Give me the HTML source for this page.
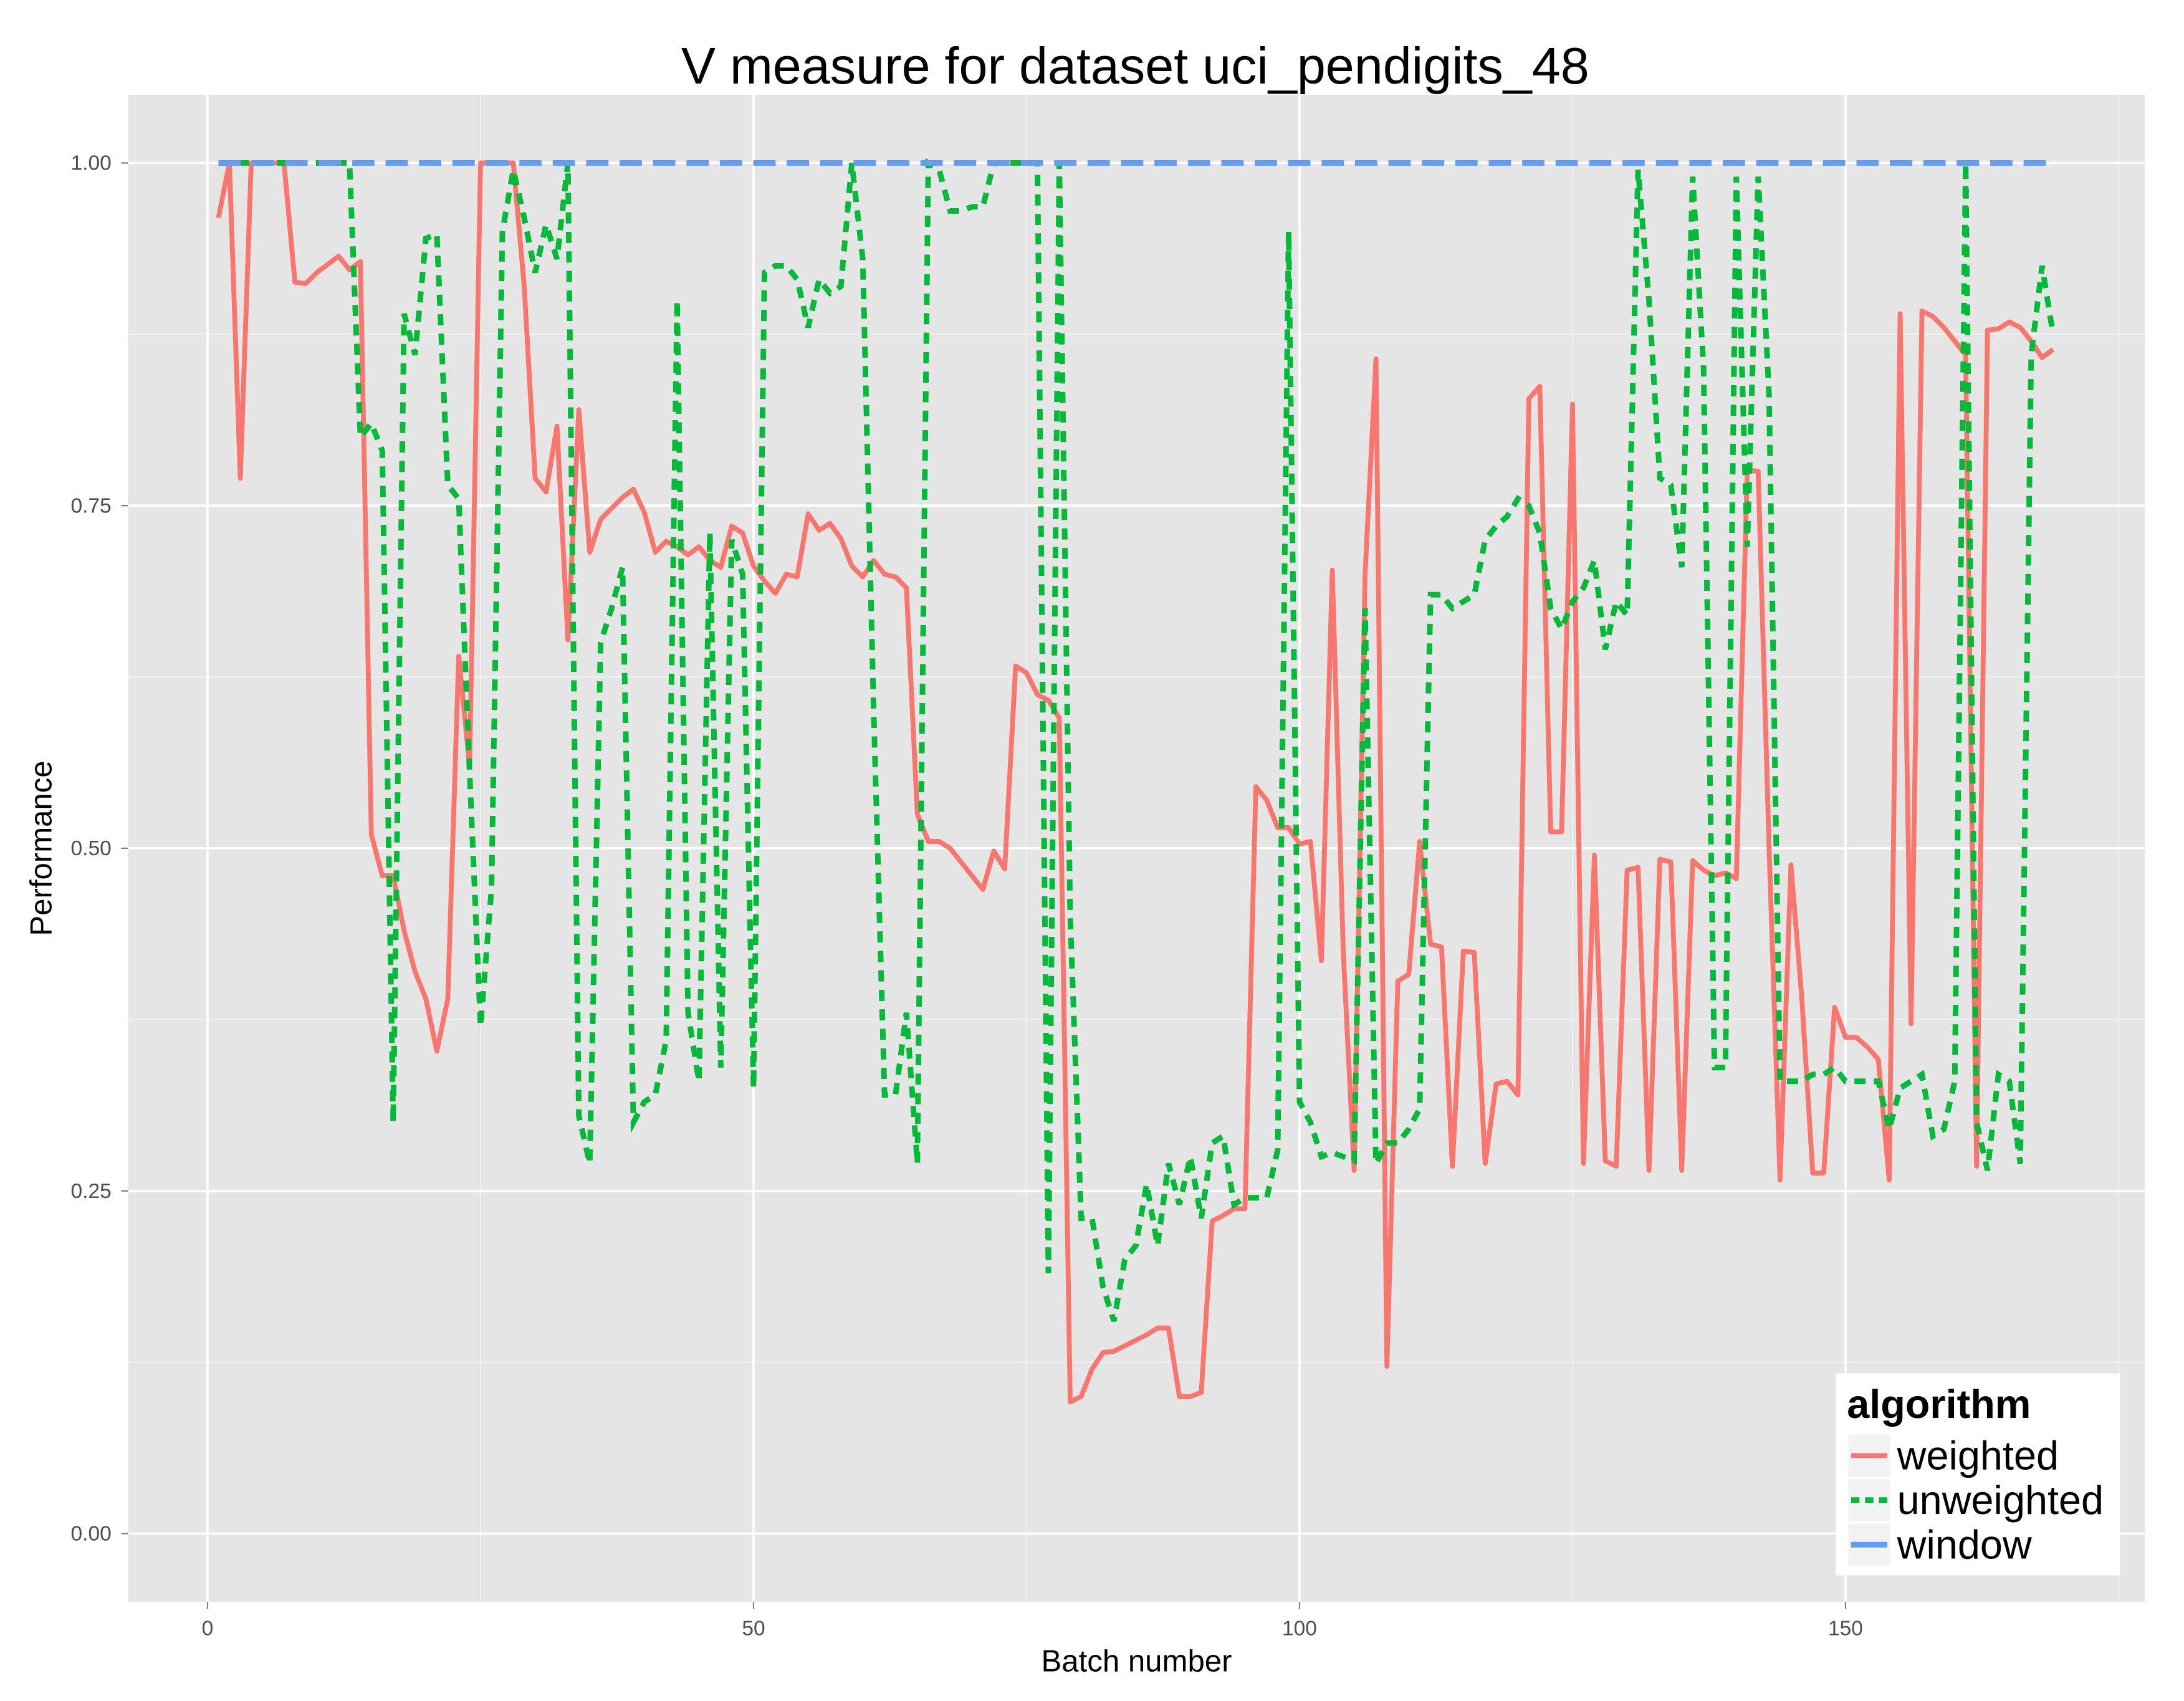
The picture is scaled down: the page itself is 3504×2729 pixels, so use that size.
<!DOCTYPE html>
<html><head><meta charset="utf-8"><style>
html,body{margin:0;padding:0;background:#fff}
svg{display:block}
text{font-family:"Liberation Sans",sans-serif}
</style></head><body>
<svg id="chart" width="3504" height="2729" viewBox="0 0 1568 1221.2" preserveAspectRatio="none" xmlns="http://www.w3.org/2000/svg">
<rect x="0" y="0" width="1568" height="1222" fill="#fff"/>
<rect x="92" y="68" width="1448" height="1082" fill="#e5e5e5"/>
<g id="grid"></g>
<g id="series"></g>
<g id="axes"></g>
<text x="815" y="60" font-size="37" text-anchor="middle" fill="#000">V measure for dataset uci_pendigits_48</text>
<text x="816" y="1200" font-size="22" text-anchor="middle" fill="#000">Batch number</text>
<text transform="translate(37,609) rotate(-90)" font-size="22" text-anchor="middle" fill="#000">Performance</text>
<g>
<rect x="1318" y="986" width="204" height="145" fill="#fff"/>
<text x="1326" y="1018" font-size="29" font-weight="bold" fill="#000">algorithm</text>
<g><rect x="1327" y="1030" width="30" height="30" fill="#f2f2f2"/><line x1="1329" y1="1045" x2="1355" y2="1045" stroke="#f8766d" stroke-width="3.5"/><text x="1362" y="1055" font-size="29">weighted</text></g>
<g><rect x="1327" y="1062" width="30" height="30" fill="#f2f2f2"/><line x1="1329" y1="1077" x2="1355" y2="1077" stroke="#00ba38" stroke-width="4" stroke-dasharray="6,4"/><text x="1362" y="1087" font-size="29">unweighted</text></g>
<g><rect x="1327" y="1094" width="30" height="30" fill="#f2f2f2"/><line x1="1329" y1="1109" x2="1355" y2="1109" stroke="#619cff" stroke-width="4"/><text x="1362" y="1119" font-size="29">window</text></g>
</g>
</svg>
<script>
const weighted=[0.96,1.0,0.77,1.0,1.0,1.0,1.0,0.913,0.912,0.92,0.926,0.932,0.922,0.928,0.51,0.48,0.48,0.44,0.41,0.39,0.352,0.39,0.64,0.56,1.0,1.0,1.0,1.0,0.91,0.77,0.76,0.808,0.652,0.82,0.716,0.74,0.748,0.756,0.762,0.745,0.716,0.724,0.72,0.714,0.72,0.71,0.705,0.735,0.73,0.706,0.695,0.686,0.7,0.698,0.744,0.732,0.737,0.726,0.706,0.698,0.71,0.7,0.698,0.69,0.525,0.505,0.505,0.5,0.49,0.48,0.47,0.498,0.485,0.633,0.628,0.612,0.608,0.595,0.096,0.1,0.12,0.132,0.133,0.137,0.141,0.145,0.15,0.15,0.1,0.1,0.103,0.228,0.232,0.237,0.237,0.545,0.535,0.515,0.515,0.503,0.505,0.418,0.703,0.425,0.265,0.7,0.857,0.122,0.403,0.408,0.505,0.43,0.428,0.268,0.425,0.424,0.27,0.328,0.33,0.32,0.828,0.837,0.512,0.512,0.824,0.27,0.495,0.272,0.268,0.484,0.486,0.265,0.492,0.49,0.265,0.491,0.484,0.48,0.482,0.478,0.776,0.775,0.5,0.258,0.488,0.39,0.263,0.263,0.384,0.362,0.362,0.355,0.346,0.258,0.89,0.372,0.892,0.888,0.88,0.87,0.86,0.268,0.878,0.879,0.884,0.88,0.87,0.858,0.864];
const unweighted=[1,1,1,1,1,1,1,1,1,1,1,1,1,0.8,0.81,0.79,0.3,0.89,0.86,0.945,0.948,0.765,0.755,0.555,0.37,0.47,0.95,0.995,0.96,0.92,0.955,0.93,1.0,0.305,0.27,0.65,0.675,0.705,0.3,0.315,0.32,0.36,0.9,0.38,0.33,0.73,0.34,0.725,0.7,0.325,0.92,0.925,0.925,0.915,0.88,0.915,0.905,0.91,1.0,0.93,0.6,0.32,0.32,0.38,0.27,1.0,0.995,0.965,0.965,0.968,0.968,1.0,1.0,1.0,1.0,1.0,0.19,1.0,0.45,0.23,0.23,0.18,0.155,0.2,0.21,0.255,0.21,0.27,0.24,0.275,0.23,0.285,0.29,0.24,0.245,0.245,0.245,0.28,0.95,0.315,0.3,0.275,0.278,0.275,0.272,0.675,0.27,0.285,0.285,0.295,0.31,0.685,0.685,0.675,0.68,0.685,0.725,0.735,0.742,0.755,0.75,0.73,0.675,0.66,0.68,0.69,0.71,0.645,0.68,0.67,0.995,0.9,0.77,0.765,0.705,0.99,0.85,0.34,0.34,0.99,0.72,0.99,0.83,0.33,0.33,0.33,0.335,0.335,0.34,0.33,0.33,0.33,0.33,0.295,0.325,0.33,0.335,0.29,0.295,0.33,1.0,0.3,0.265,0.335,0.33,0.27,0.86,0.925,0.875];
const windowVals=new Array(169).fill(1.0);
const xTicks=[0,50,100,150];
const yTicks=[0,0.25,0.5,0.75,1.0];
const yTickLabels=["0.00","0.25","0.50","0.75","1.00"];
const X=v=>149+v*7.84, Y=v=>1101-v*984;
const NS="http://www.w3.org/2000/svg";
function mk(tag,attrs,parent){const e=document.createElementNS(NS,tag);for(const k in attrs)e.setAttribute(k,attrs[k]);parent.appendChild(e);return e;}
const grid=document.getElementById('grid'),series=document.getElementById('series'),axes=document.getElementById('axes');
[25,75,125,175].forEach(v=>{const l=mk('line',{x1:X(v),x2:X(v),y1:68,y2:1150,stroke:'#f2f2f2','stroke-width':0.8},grid);

});
[0.125,0.375,0.625,0.875].forEach(v=>{const l=mk('line',{x1:92,x2:1540,y1:Y(v),y2:Y(v),stroke:'#f2f2f2','stroke-width':0.8},grid);

});
xTicks.forEach(v=>{const l=mk('line',{x1:X(v),x2:X(v),y1:68,y2:1150,stroke:'#fff','stroke-width':1.6},grid);


const t=mk('line',{x1:X(v),x2:X(v),y1:1150,y2:1155,stroke:'#7f7f7f','stroke-width':1},axes);


const tx=mk('text',{x:X(v),y:1174,'font-size':15,'text-anchor':'middle',fill:'#4d4d4d'},axes);tx.textContent=v;

});
yTicks.forEach((v,i)=>{const l=mk('line',{x1:92,x2:1540,y1:Y(v),y2:Y(v),stroke:'#fff','stroke-width':1.6},grid);


const t=mk('line',{x1:87,x2:92,y1:Y(v),y2:Y(v),stroke:'#7f7f7f','stroke-width':1},axes);


const tx=mk('text',{x:80,y:Y(v)+5,'font-size':15,'text-anchor':'end',fill:'#4d4d4d'},axes);tx.textContent=yTickLabels[i];

});
function pts(a){return a.map((v,i)=>X(i+1).toFixed(2)+','+Y(v).toFixed(2)).join(' ');}
const pw=mk('polyline',{points:pts(weighted),fill:'none',stroke:'#f8766d','stroke-width':3.5,'stroke-linejoin':'round'},series);


const pu=mk('polyline',{points:pts(unweighted),fill:'none',stroke:'#00ba38','stroke-width':4,'stroke-dasharray':'8,6'},series);


const pwin=mk('polyline',{points:pts(windowVals),fill:'none',stroke:'#619cff','stroke-width':4,'stroke-dasharray':'16,8'},series);


</script>
</body></html>
